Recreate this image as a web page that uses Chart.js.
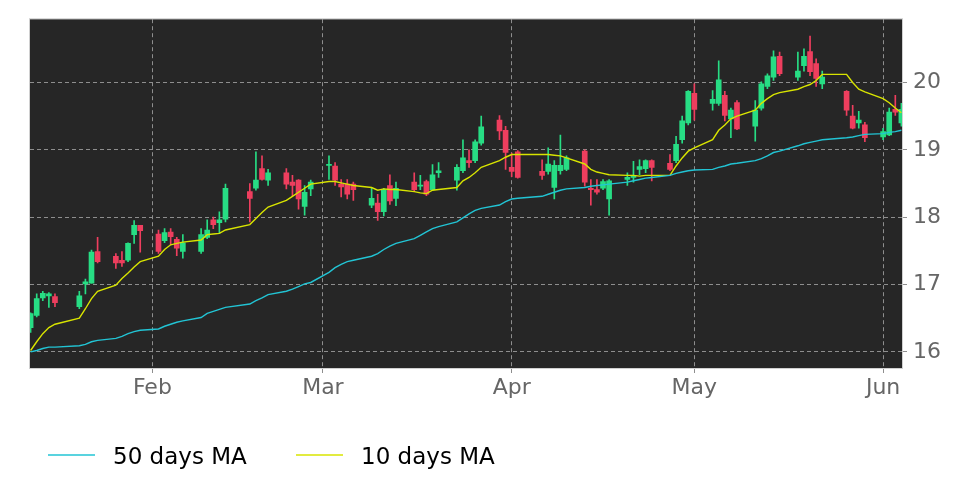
<!DOCTYPE html>
<html>
<head>
<meta charset="utf-8">
<script src="https://cdn.jsdelivr.net/npm/chart.js@4.4.0/dist/chart.umd.min.js"></script>
<style>
  html, body { margin: 0; padding: 0; background: #ffffff; }
  #grafico { display: block; }
</style>
</head>
<body>
<canvas id="grafico" width="972" height="486"></canvas>
<script>
// pregões (jan-jun)
const datas = [
  '2015-01-12','2015-01-13','2015-01-14','2015-01-15','2015-01-16',
  '2015-01-20','2015-01-21','2015-01-22','2015-01-23',
  '2015-01-26','2015-01-27','2015-01-28','2015-01-29','2015-01-30',
  '2015-02-02','2015-02-03','2015-02-04','2015-02-05','2015-02-06',
  '2015-02-09','2015-02-10','2015-02-11','2015-02-12','2015-02-13',
  '2015-02-17','2015-02-18','2015-02-19','2015-02-20',
  '2015-02-23','2015-02-24','2015-02-25','2015-02-26','2015-02-27',
  '2015-03-02','2015-03-03','2015-03-04','2015-03-05','2015-03-06',
  '2015-03-09','2015-03-10','2015-03-11','2015-03-12','2015-03-13',
  '2015-03-16','2015-03-17','2015-03-18','2015-03-19','2015-03-20',
  '2015-03-23','2015-03-24','2015-03-25','2015-03-26','2015-03-27',
  '2015-03-30','2015-03-31','2015-04-01','2015-04-02',
  '2015-04-06','2015-04-07','2015-04-08','2015-04-09','2015-04-10',
  '2015-04-13','2015-04-14','2015-04-15','2015-04-16','2015-04-17',
  '2015-04-20','2015-04-21','2015-04-22','2015-04-23','2015-04-24',
  '2015-04-27','2015-04-28','2015-04-29','2015-04-30','2015-05-01',
  '2015-05-04','2015-05-05','2015-05-06','2015-05-07','2015-05-08',
  '2015-05-11','2015-05-12','2015-05-13','2015-05-14','2015-05-15',
  '2015-05-18','2015-05-19','2015-05-20','2015-05-21','2015-05-22',
  '2015-05-26','2015-05-27','2015-05-28','2015-05-29',
  '2015-06-01','2015-06-02','2015-06-03','2015-06-04'
];

const abertura = [
  16.36,16.54,16.80,16.83,16.82, 16.67,17.01,17.02,17.49, 17.42,17.36,17.36,17.74,17.88,
  17.75,17.65,17.78,17.67,17.49, 17.49,17.70,17.96,17.92,17.97, 18.38,18.43,18.72,18.55, 18.66,18.52,18.55,18.16,18.42,
  18.77,18.76,18.49,18.49,18.49, 18.18,18.21,18.08,18.47,18.28, 18.52,18.46,18.53,18.41,18.66, 18.55,18.69,18.84,18.84,19.10, 19.44,19.29,
  18.74,18.97, 18.68,18.68,18.44,18.69,18.71, 18.98,18.43,18.41,18.43,18.27, 18.56,18.59,18.71,18.72,18.84, 18.80,18.84,19.15,19.40,
  19.84, 19.69,19.69,19.81,19.46,19.70, 19.35,19.62,19.94,20.08,20.39, 20.08,20.25,20.46,20.28,19.98, 19.87,19.50,19.40,19.37,
  19.19,19.22,19.60,19.40
];
const maxima = [
  16.58,16.86,16.90,16.88,16.86, 16.90,17.08,17.51,17.70, 17.46,17.49,17.62,17.95,17.88,
  17.81,17.83,17.83,17.70,17.74, 17.83,17.96,18.00,18.08,18.49, 18.50,18.97,18.91,18.71, 18.72,18.62,18.56,18.47,18.55,
  18.91,18.81,18.56,18.56,18.52, 18.44,18.34,18.43,18.63,18.52, 18.66,18.62,18.55,18.78,18.81, 18.78,19.15,19.00,19.15,19.50, 19.51,19.35,
  18.95,18.99, 18.85,19.03,18.84,19.22,18.91, 19.00,18.56,18.56,18.56,18.56, 18.66,18.83,18.85,18.85,18.85, 18.93,19.20,19.50,19.88,
  19.98, 19.88,20.32,19.87,19.62,19.73, 19.73,20.01,20.13,20.47,20.45, 20.45,20.50,20.69,20.35,20.17, 19.88,19.66,19.57,19.41,
  19.32,19.62,19.81,19.69
];
const minimas = [
  16.29,16.52,16.76,16.66,16.67, 16.64,16.86,17.02,17.32, 17.24,17.27,17.34,17.61,17.48,
  17.46,17.62,17.59,17.43,17.39, 17.46,17.68,17.83,17.76,17.93, 17.93,18.40,18.55,18.47, 18.42,18.32,18.12,18.03,18.32,
  18.56,18.47,18.30,18.27,18.25, 18.14,17.95,18.02,18.19,18.17, 18.38,18.41,18.32,18.40,18.59, 18.40,18.66,18.74,18.81,19.07, 19.15,18.71,
  18.60,18.58, 18.56,18.64,18.27,18.64,18.69, 18.46,18.18,18.34,18.41,18.03, 18.47,18.52,18.63,18.66,18.54, 18.69,18.81,19.10,19.37,
  19.44, 19.59,19.66,19.43,19.18,19.30, 19.13,19.59,19.91,20.03,20.10, 20.03,20.17,20.10,19.94,19.91, 19.51,19.31,19.32,19.12,
  19.15,19.21,19.51,19.35
];
const fechamento = [
  16.57,16.79,16.87,16.86,16.73, 16.83,17.04,17.48,17.34, 17.32,17.32,17.61,17.88,17.80,
  17.49,17.77,17.71,17.54,17.62, 17.74,17.81,17.89,17.96,18.43, 18.28,18.55,18.56,18.66, 18.49,18.47,18.27,18.37,18.52,
  18.78,18.55,18.45,18.34,18.41, 18.28,18.08,18.41,18.24,18.43, 18.41,18.47,18.34,18.63,18.69, 18.74,18.88,18.81,19.12,19.34, 19.28,18.96,
  18.68,18.59, 18.62,18.79,18.77,18.77,18.88, 18.52,18.41,18.37,18.53,18.54, 18.59,18.62,18.75,18.84,18.74, 18.71,19.08,19.43,19.87,
  19.60, 19.75,20.04,19.51,19.59,19.31, 19.59,19.98,20.10,20.38,20.13, 20.17,20.39,20.16,20.06,20.08, 19.59,19.32,19.44,19.18,
  19.27,19.56,19.56,19.60
];

const media50 = [
  16.00,16.02,16.05,16.07,16.07, 16.09,16.11,16.15,16.17, 16.20,16.23,16.27,16.30,16.32,
  16.34,16.38,16.41,16.44,16.46, 16.51,16.57,16.60,16.63,16.66, 16.71,16.76,16.80,16.85, 16.90,16.93,16.97,17.01,17.03,
  17.18,17.25,17.30,17.34,17.36, 17.42,17.46,17.52,17.57,17.61, 17.68,17.73,17.78,17.83,17.86, 17.93,17.99,18.05,18.10,18.13, 18.18,18.23,
  18.27,18.28, 18.31,18.34,18.37,18.40,18.42, 18.44,18.46,18.47,18.48,18.49, 18.52,18.54,18.56,18.58,18.59, 18.62,18.65,18.67,18.69,
  18.70, 18.71,18.74,18.76,18.79,18.80, 18.84,18.87,18.91,18.96,18.98, 19.06,19.09,19.11,19.13,19.15, 19.18,19.19,19.21,19.23,
  19.24,19.26,19.27,19.29
];
const media10 = [
  16.02,16.15,16.27,16.36,16.41, 16.50,16.64,16.79,16.90, 16.99,17.09,17.17,17.26,17.34,
  17.42,17.52,17.59,17.61,17.63, 17.66,17.74,17.75,17.76,17.81, 17.89,17.98,18.07,18.15, 18.25,18.31,18.37,18.43,18.49,
  18.53,18.53,18.51,18.49,18.47, 18.44,18.40,18.42,18.41,18.41, 18.38,18.36,18.35,18.40,18.41, 18.44,18.54,18.59,18.66,18.74, 18.84,18.89,
  18.93,18.93, 18.93,18.93,18.92,18.91,18.88, 18.79,18.71,18.67,18.65,18.63, 18.62,18.62,18.61,18.62,18.62, 18.62,18.76,18.88,18.98,
  19.03, 19.15,19.29,19.37,19.46,19.50, 19.59,19.69,19.76,19.82,19.85, 19.90,19.94,19.97,20.03,20.12, 20.12,20.00,19.90,19.86,
  19.76,19.70,19.62,19.55
];

const mesesTicks = ['2015-02-01','2015-03-01','2015-04-01','2015-05-01','2015-06-01'];
const mesesLabels = ['Feb','Mar','Apr','May','Jun'];
const precoTicks = [16, 17, 18, 19, 20];

const corAlta = '#27dd84';
const corBaixa = '#ee3e5e';

function diaDoAno(s) {
  const p = s.split('-').map(Number);
  return (Date.UTC(p[0], p[1] - 1, p[2]) - Date.UTC(p[0], 0, 0)) / 86400000;
}

const xs = datas.map(diaDoAno);
const cores = abertura.map((o, i) => fechamento[i] >= o ? corAlta : corBaixa);
const xTicks = mesesTicks.map(diaDoAno);

const fonte = 'DejaVu Sans';

const fundo = {
  id: 'fundo',
  beforeDraw(chart) {
    const a = chart.chartArea;
    const ctx = chart.ctx;
    ctx.save();
    ctx.fillStyle = '#262626';
    ctx.fillRect(a.left, a.top, a.right - a.left, a.bottom - a.top);
    ctx.restore();
  },
  afterDraw(chart) {
    const a = chart.chartArea;
    const ctx = chart.ctx;
    ctx.save();
    ctx.strokeStyle = '#d0d0d0';
    ctx.lineWidth = 1;
    ctx.strokeRect(a.left - 0.5, a.top - 0.5, a.right - a.left + 1, a.bottom - a.top + 1);

    // legenda
    const itens = chart.data.datasets.filter(d => d.type === 'line');
    const posicoes = [48, 296];
    ctx.font = '23px "' + fonte + '"';
    ctx.textBaseline = 'alphabetic';
    ctx.textAlign = 'left';
    itens.forEach((d, i) => {
      const x0 = posicoes[i];
      ctx.strokeStyle = d.borderColor;
      ctx.lineWidth = 1.4;
      ctx.beginPath();
      ctx.moveTo(x0, 455);
      ctx.lineTo(x0 + 47, 455);
      ctx.stroke();
      ctx.fillStyle = '#000000';
      ctx.fillText(d.label, x0 + 65, 464);
    });
    ctx.restore();
  }
};

new Chart(document.getElementById('grafico'), {
  type: 'bar',
  data: {
    datasets: [
      {
        type: 'line',
        label: '50 days MA',
        data: xs.map((x, i) => ({ x: x, y: media50[i] })),
        borderColor: '#22c4d4',
        borderWidth: 1.4,
        pointRadius: 0,
        tension: 0,
        order: 0
      },
      {
        type: 'line',
        label: '10 days MA',
        data: xs.map((x, i) => ({ x: x, y: media10[i] })),
        borderColor: '#d8e400',
        borderWidth: 1.4,
        pointRadius: 0,
        tension: 0,
        order: 0
      },
      {
        label: 'corpo',
        data: xs.map((x, i) => ({ x: x, y: [abertura[i], fechamento[i]] })),
        backgroundColor: cores,
        barThickness: 5,
        minBarLength: 1,
        grouped: false,
        order: 1
      },
      {
        label: 'pavio',
        data: xs.map((x, i) => ({ x: x, y: [minimas[i], maxima[i]] })),
        backgroundColor: cores,
        barThickness: 1,
        grouped: false,
        order: 2
      }
    ]
  },
  options: {
    responsive: false,
    animation: false,
    layout: { padding: { left: 30, top: 15, right: 0, bottom: 0 } },
    plugins: {
      legend: { display: false },
      tooltip: { enabled: false }
    },
    scales: {
      x: {
        type: 'linear',
        min: 11.9,
        max: 155.1,
        offset: false,
        afterBuildTicks: (scale) => { scale.ticks = xTicks.map(v => ({ value: v })); },
        afterFit: (scale) => { scale.height = 118; },
        ticks: {
          color: '#666666',
          font: { family: fonte, size: 22 },
          padding: 2,
          maxRotation: 0,
          autoSkip: false,
          callback: (v) => mesesLabels[xTicks.indexOf(v)]
        },
        grid: {
          offset: false,
          color: '#8e8e8e',
          lineWidth: 1,
          drawTicks: true,
          tickLength: 5,
          tickColor: '#8e8e8e',
          borderDash: [4, 3]
        },
        border: { display: false, dash: [4, 3] }
      },
      y: {
        type: 'linear',
        position: 'right',
        min: 15.76,
        max: 20.94,
        afterBuildTicks: (scale) => { scale.ticks = precoTicks.map(v => ({ value: v })); },
        afterFit: (scale) => { scale.width = 70; },
        ticks: {
          color: '#666666',
          font: { family: fonte, size: 22 },
          padding: 6,
          callback: (v) => String(v)
        },
        grid: {
          color: '#8e8e8e',
          lineWidth: 1,
          drawTicks: true,
          tickLength: 5,
          tickColor: '#8e8e8e',
          borderDash: [4, 3]
        },
        border: { display: false, dash: [4, 3] }
      }
    }
  },
  plugins: [fundo]
});
</script>
</body>
</html>
